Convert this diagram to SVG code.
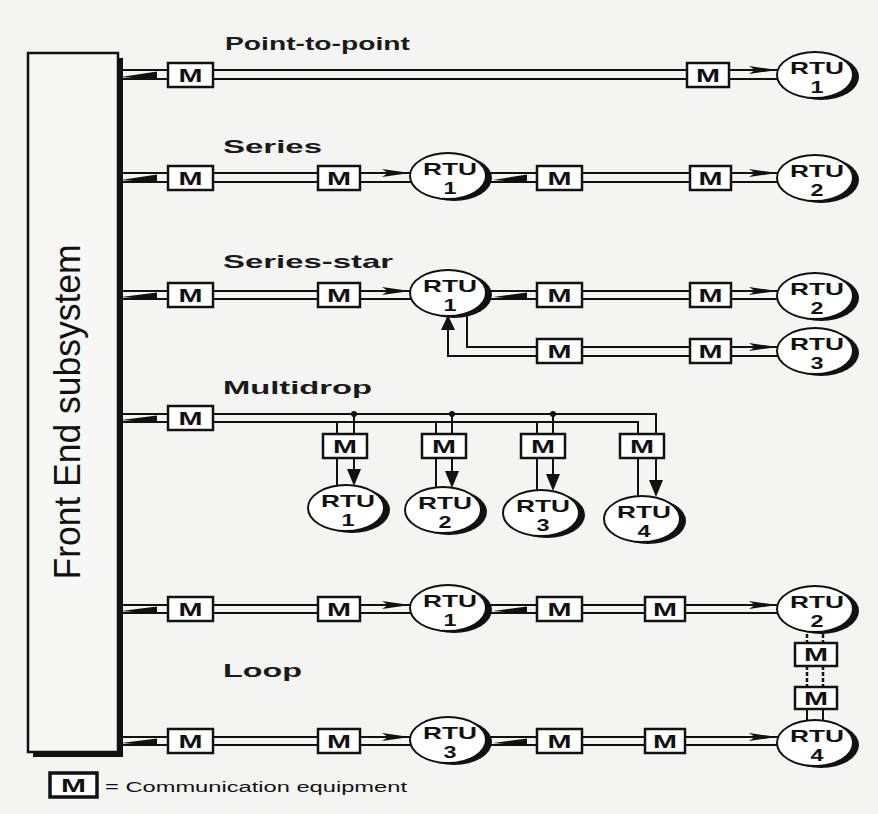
<svg xmlns="http://www.w3.org/2000/svg" width="878" height="814" viewBox="0 0 878 814">
<style>
.ln{stroke:#111;stroke-width:2;fill:none}
.dl{stroke:#111;stroke-width:2.5;fill:none;stroke-dasharray:4 2}
.ah{fill:#111;stroke:none}
.dot{fill:#111}
.mb{fill:#fff;stroke:#111;stroke-width:2.5}
.mt{font-family:"Liberation Sans",Arial,sans-serif;font-weight:bold;font-size:18px;fill:#111;text-anchor:middle}
.sh{fill:#111}
.rc{fill:#fff;stroke:#111;stroke-width:2}
.rt{font-family:"Liberation Sans",Arial,sans-serif;font-weight:bold;font-size:17px;fill:#111;text-anchor:middle}
.lbl{font-family:"Liberation Sans",Arial,sans-serif;font-weight:bold;font-size:19px;fill:#1a1a1a}
.fe{font-family:"Liberation Sans",Arial,sans-serif;font-size:36px;fill:#111;text-anchor:middle}
.lg{font-family:"Liberation Sans",Arial,sans-serif;font-size:14px;fill:#111}
</style>
<rect x="0" y="0" width="878" height="814" fill="#f4f4f2"/>

<g id="front-end">
<rect x="33" y="58" width="90" height="699" fill="#111"/>
<rect x="28" y="53" width="90" height="699" fill="#f7f7f5" stroke="#111" stroke-width="2.5"/>
<text class="fe" transform="translate(80,412) rotate(-90)" textLength="335" lengthAdjust="spacingAndGlyphs">Front End subsystem</text>
</g>

<g id="labels">
<text class="lbl" x="225" y="50" textLength="185" lengthAdjust="spacingAndGlyphs">Point-to-point</text>
<text class="lbl" x="223" y="153" textLength="99" lengthAdjust="spacingAndGlyphs">Series</text>
<text class="lbl" x="223" y="268" textLength="170" lengthAdjust="spacingAndGlyphs">Series-star</text>
<text class="lbl" x="223" y="394" textLength="149" lengthAdjust="spacingAndGlyphs">Multidrop</text>
<text class="lbl" x="223" y="677" textLength="79" lengthAdjust="spacingAndGlyphs">Loop</text>
</g>

<g id="connectors">
<!-- Row 1 point-to-point -->
<path class="ln" d="M122,70H168M122,79H168M213,70H687M213,79H687M729,70H800M729,79H800"/>
<polygon class="ah" points="121,77 157,71.5 157,80"/>
<polygon class="ah" points="749,66 777,70 749,74 755,70"/>
<!-- Row 2 series -->
<path class="ln" d="M122,173H168M122,182H168M213,173H318M213,182H318M360,173H430M360,182H430M470,173H537M470,182H537M582,173H690M582,182H690M731,173H800M731,182H800"/>
<polygon class="ah" points="121,180 157,174.5 157,183"/>
<polygon class="ah" points="382,169 410,173 382,177 388,173"/>
<polygon class="ah" points="493,180 527,174.5 527,183"/>
<polygon class="ah" points="749,169 777,173 749,177 755,173"/>
<!-- Row 3 series-star -->
<path class="ln" d="M122,291H168M122,299H168M213,291H318M213,299H318M360,291H430M360,299H430M470,291H537M470,299H537M582,291H690M582,299H690M731,291H800M731,299H800"/>
<polygon class="ah" points="121,297 157,292.5 157,300"/>
<polygon class="ah" points="382,287 410,291 382,295 388,291"/>
<polygon class="ah" points="493,297 527,292.5 527,300"/>
<polygon class="ah" points="749,287 777,291 749,295 755,291"/>
<path class="ln" d="M467,300V347H537M448,328V356H537M582,347H690M582,356H690M731,347H800M731,356H800"/>
<polygon class="ah" points="448,315 441,330 455,330"/>
<polygon class="ah" points="749,343 777,347 749,351 755,347"/>
<!-- Row 4 multidrop -->
<path class="ln" d="M122,414H168M122,422H168M213,414H656V482M213,422H638V519"/>
<polygon class="ah" points="121,420 157,415.5 157,423"/>
<path class="ln" d="M337,422V508M354,414V472M436,422V510M452,414V474M537,422V513M553,414V477M656,414V482"/>
<polygon class="ah" points="354,486 347,469 361,469"/>
<polygon class="ah" points="452,488 445,471 459,471"/>
<polygon class="ah" points="553,491 546,474 560,474"/>
<polygon class="ah" points="656,497 649,480 663,480"/>
<circle class="dot" cx="354" cy="414" r="3"/>
<circle class="dot" cx="452" cy="414" r="3"/>
<circle class="dot" cx="553" cy="414" r="3"/>
<!-- Row 5 loop top -->
<path class="ln" d="M122,605H168M122,613H168M213,605H318M213,613H318M360,605H430M360,613H430M470,605H537M470,613H537M582,605H645M582,613H645M685,605H800M685,613H800"/>
<polygon class="ah" points="121,611 157,606.5 157,614"/>
<polygon class="ah" points="382,601 410,605 382,609 388,605"/>
<polygon class="ah" points="493,611 527,606.5 527,614"/>
<polygon class="ah" points="749,601 777,605 749,609 755,605"/>
<!-- Loop vertical -->
<path class="dl" d="M807,628V643M823,628V643M807,666V687M823,666V687"/>
<path class="ln" d="M807,709V722M823,709V722"/>
<!-- Row 6 loop bottom -->
<path class="ln" d="M122,737H168M122,745H168M213,737H318M213,745H318M360,737H430M360,745H430M470,737H537M470,745H537M582,737H645M582,745H645M685,737H800M685,745H800"/>
<polygon class="ah" points="121,743 157,738.5 157,746"/>
<polygon class="ah" points="382,733 410,737 382,741 388,737"/>
<polygon class="ah" points="493,743 527,738.5 527,746"/>
<polygon class="ah" points="749,733 777,737 749,741 755,737"/>
</g>

<!-- M boxes -->
<g id="m-r1a"><rect class="mb" x="168" y="63" width="45" height="24"/><text class="mt" x="190.5" y="82" textLength="24" lengthAdjust="spacingAndGlyphs">M</text></g>
<g id="m-r1b"><rect class="mb" x="687" y="63" width="42" height="24"/><text class="mt" x="708" y="82" textLength="24" lengthAdjust="spacingAndGlyphs">M</text></g>

<g id="m-r2a"><rect class="mb" x="168" y="166" width="45" height="24"/><text class="mt" x="190.5" y="185" textLength="24" lengthAdjust="spacingAndGlyphs">M</text></g>
<g id="m-r2b"><rect class="mb" x="318" y="166" width="42" height="24"/><text class="mt" x="339" y="185" textLength="24" lengthAdjust="spacingAndGlyphs">M</text></g>
<g id="m-r2c"><rect class="mb" x="537" y="166" width="45" height="24"/><text class="mt" x="559.5" y="185" textLength="24" lengthAdjust="spacingAndGlyphs">M</text></g>
<g id="m-r2d"><rect class="mb" x="690" y="166" width="41" height="24"/><text class="mt" x="710.5" y="185" textLength="24" lengthAdjust="spacingAndGlyphs">M</text></g>

<g id="m-r3a"><rect class="mb" x="168" y="283" width="45" height="24"/><text class="mt" x="190.5" y="302" textLength="24" lengthAdjust="spacingAndGlyphs">M</text></g>
<g id="m-r3b"><rect class="mb" x="318" y="283" width="42" height="24"/><text class="mt" x="339" y="302" textLength="24" lengthAdjust="spacingAndGlyphs">M</text></g>
<g id="m-r3c"><rect class="mb" x="537" y="283" width="45" height="24"/><text class="mt" x="559.5" y="302" textLength="24" lengthAdjust="spacingAndGlyphs">M</text></g>
<g id="m-r3d"><rect class="mb" x="690" y="283" width="41" height="24"/><text class="mt" x="710.5" y="302" textLength="24" lengthAdjust="spacingAndGlyphs">M</text></g>
<g id="m-r3e"><rect class="mb" x="537" y="339" width="45" height="24"/><text class="mt" x="559.5" y="358" textLength="24" lengthAdjust="spacingAndGlyphs">M</text></g>
<g id="m-r3f"><rect class="mb" x="690" y="339" width="41" height="24"/><text class="mt" x="710.5" y="358" textLength="24" lengthAdjust="spacingAndGlyphs">M</text></g>

<g id="m-r4a"><rect class="mb" x="168" y="406" width="45" height="24"/><text class="mt" x="190.5" y="425" textLength="24" lengthAdjust="spacingAndGlyphs">M</text></g>
<g id="m-d1"><rect class="mb" x="323" y="434" width="44" height="24"/><text class="mt" x="345" y="453" textLength="24" lengthAdjust="spacingAndGlyphs">M</text></g>
<g id="m-d2"><rect class="mb" x="422" y="434" width="44" height="24"/><text class="mt" x="444" y="453" textLength="24" lengthAdjust="spacingAndGlyphs">M</text></g>
<g id="m-d3"><rect class="mb" x="521" y="434" width="44" height="24"/><text class="mt" x="543" y="453" textLength="24" lengthAdjust="spacingAndGlyphs">M</text></g>
<g id="m-d4"><rect class="mb" x="620" y="434" width="44" height="24"/><text class="mt" x="642" y="453" textLength="24" lengthAdjust="spacingAndGlyphs">M</text></g>

<g id="m-r5a"><rect class="mb" x="168" y="597" width="45" height="24"/><text class="mt" x="190.5" y="616" textLength="24" lengthAdjust="spacingAndGlyphs">M</text></g>
<g id="m-r5b"><rect class="mb" x="318" y="597" width="42" height="24"/><text class="mt" x="339" y="616" textLength="24" lengthAdjust="spacingAndGlyphs">M</text></g>
<g id="m-r5c"><rect class="mb" x="537" y="597" width="45" height="24"/><text class="mt" x="559.5" y="616" textLength="24" lengthAdjust="spacingAndGlyphs">M</text></g>
<g id="m-r5d"><rect class="mb" x="645" y="597" width="40" height="24"/><text class="mt" x="665" y="616" textLength="24" lengthAdjust="spacingAndGlyphs">M</text></g>
<g id="m-loop1"><rect class="mb" x="795" y="643" width="42" height="23"/><text class="mt" x="816" y="661" textLength="24" lengthAdjust="spacingAndGlyphs">M</text></g>
<g id="m-loop2"><rect class="mb" x="795" y="687" width="42" height="22"/><text class="mt" x="816" y="704.5" textLength="24" lengthAdjust="spacingAndGlyphs">M</text></g>

<g id="m-r6a"><rect class="mb" x="168" y="729" width="45" height="24"/><text class="mt" x="190.5" y="748" textLength="24" lengthAdjust="spacingAndGlyphs">M</text></g>
<g id="m-r6b"><rect class="mb" x="318" y="729" width="42" height="24"/><text class="mt" x="339" y="748" textLength="24" lengthAdjust="spacingAndGlyphs">M</text></g>
<g id="m-r6c"><rect class="mb" x="537" y="729" width="45" height="24"/><text class="mt" x="559.5" y="748" textLength="24" lengthAdjust="spacingAndGlyphs">M</text></g>
<g id="m-r6d"><rect class="mb" x="645" y="729" width="40" height="24"/><text class="mt" x="665" y="748" textLength="24" lengthAdjust="spacingAndGlyphs">M</text></g>

<!-- RTUs -->
<g id="rtu-p1"><ellipse class="sh" cx="821" cy="77" rx="38" ry="23"/><ellipse class="rc" cx="815" cy="75" rx="38" ry="23"/><text class="rt" x="817" y="74" textLength="54" lengthAdjust="spacingAndGlyphs">RTU</text><text class="rt" x="817" y="93" textLength="13" lengthAdjust="spacingAndGlyphs">1</text></g>

<g id="rtu-s1"><ellipse class="sh" cx="454" cy="178" rx="38" ry="23"/><ellipse class="rc" cx="448" cy="176" rx="38" ry="23"/><text class="rt" x="450" y="175" textLength="54" lengthAdjust="spacingAndGlyphs">RTU</text><text class="rt" x="450" y="194" textLength="13" lengthAdjust="spacingAndGlyphs">1</text></g>
<g id="rtu-s2"><ellipse class="sh" cx="821" cy="180" rx="38" ry="23"/><ellipse class="rc" cx="815" cy="178" rx="38" ry="23"/><text class="rt" x="817" y="177" textLength="54" lengthAdjust="spacingAndGlyphs">RTU</text><text class="rt" x="817" y="196" textLength="13" lengthAdjust="spacingAndGlyphs">2</text></g>

<g id="rtu-ss1"><ellipse class="sh" cx="454" cy="295" rx="38" ry="23"/><ellipse class="rc" cx="448" cy="293" rx="38" ry="23"/><text class="rt" x="450" y="292" textLength="54" lengthAdjust="spacingAndGlyphs">RTU</text><text class="rt" x="450" y="311" textLength="13" lengthAdjust="spacingAndGlyphs">1</text></g>
<g id="rtu-ss2"><ellipse class="sh" cx="821" cy="298" rx="38" ry="23"/><ellipse class="rc" cx="815" cy="296" rx="38" ry="23"/><text class="rt" x="817" y="295" textLength="54" lengthAdjust="spacingAndGlyphs">RTU</text><text class="rt" x="817" y="314" textLength="13" lengthAdjust="spacingAndGlyphs">2</text></g>
<g id="rtu-ss3"><ellipse class="sh" cx="821" cy="353" rx="38" ry="23"/><ellipse class="rc" cx="815" cy="351" rx="38" ry="23"/><text class="rt" x="817" y="350" textLength="54" lengthAdjust="spacingAndGlyphs">RTU</text><text class="rt" x="817" y="369" textLength="13" lengthAdjust="spacingAndGlyphs">3</text></g>

<g id="rtu-md1"><ellipse class="sh" cx="352" cy="510" rx="38" ry="23"/><ellipse class="rc" cx="346" cy="508" rx="38" ry="23"/><text class="rt" x="348" y="507" textLength="54" lengthAdjust="spacingAndGlyphs">RTU</text><text class="rt" x="348" y="526" textLength="13" lengthAdjust="spacingAndGlyphs">1</text></g>
<g id="rtu-md2"><ellipse class="sh" cx="449" cy="512" rx="38" ry="23"/><ellipse class="rc" cx="443" cy="510" rx="38" ry="23"/><text class="rt" x="445" y="509" textLength="54" lengthAdjust="spacingAndGlyphs">RTU</text><text class="rt" x="445" y="528" textLength="13" lengthAdjust="spacingAndGlyphs">2</text></g>
<g id="rtu-md3"><ellipse class="sh" cx="547" cy="515" rx="38" ry="23"/><ellipse class="rc" cx="541" cy="513" rx="38" ry="23"/><text class="rt" x="543" y="512" textLength="54" lengthAdjust="spacingAndGlyphs">RTU</text><text class="rt" x="543" y="531" textLength="13" lengthAdjust="spacingAndGlyphs">3</text></g>
<g id="rtu-md4"><ellipse class="sh" cx="648" cy="521" rx="38" ry="23"/><ellipse class="rc" cx="642" cy="519" rx="38" ry="23"/><text class="rt" x="644" y="518" textLength="54" lengthAdjust="spacingAndGlyphs">RTU</text><text class="rt" x="644" y="537" textLength="13" lengthAdjust="spacingAndGlyphs">4</text></g>

<g id="rtu-l1"><ellipse class="sh" cx="454" cy="610" rx="38" ry="23"/><ellipse class="rc" cx="448" cy="608" rx="38" ry="23"/><text class="rt" x="450" y="607" textLength="54" lengthAdjust="spacingAndGlyphs">RTU</text><text class="rt" x="450" y="626" textLength="13" lengthAdjust="spacingAndGlyphs">1</text></g>
<g id="rtu-l2"><ellipse class="sh" cx="821" cy="611" rx="38" ry="23"/><ellipse class="rc" cx="815" cy="609" rx="38" ry="23"/><text class="rt" x="817" y="608" textLength="54" lengthAdjust="spacingAndGlyphs">RTU</text><text class="rt" x="817" y="627" textLength="13" lengthAdjust="spacingAndGlyphs">2</text></g>
<g id="rtu-l3"><ellipse class="sh" cx="454" cy="742" rx="38" ry="23"/><ellipse class="rc" cx="448" cy="740" rx="38" ry="23"/><text class="rt" x="450" y="739" textLength="54" lengthAdjust="spacingAndGlyphs">RTU</text><text class="rt" x="450" y="758" textLength="13" lengthAdjust="spacingAndGlyphs">3</text></g>
<g id="rtu-l4"><ellipse class="sh" cx="821" cy="745" rx="38" ry="23"/><ellipse class="rc" cx="815" cy="743" rx="38" ry="23"/><text class="rt" x="817" y="742" textLength="54" lengthAdjust="spacingAndGlyphs">RTU</text><text class="rt" x="817" y="761" textLength="13" lengthAdjust="spacingAndGlyphs">4</text></g>

<g id="legend">
<rect x="50" y="773" width="47" height="24" fill="#fff" stroke="#111" stroke-width="3.5"/>
<text class="mt" x="73.5" y="792" textLength="25" lengthAdjust="spacingAndGlyphs">M</text>
<text class="lg" x="105" y="792" textLength="302" lengthAdjust="spacingAndGlyphs">= Communication equipment</text>
</g>
</svg>
